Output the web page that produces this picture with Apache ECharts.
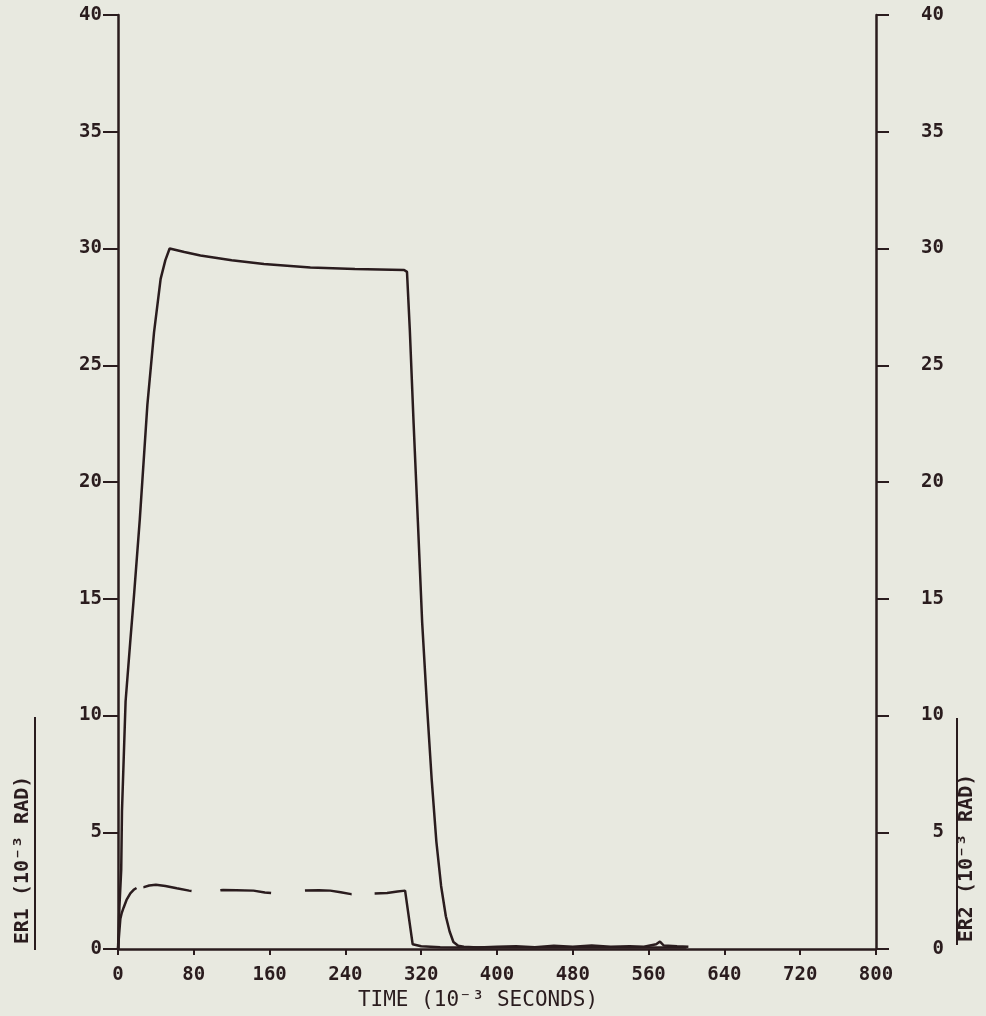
<!DOCTYPE html>
<html>
<head>
<meta charset="utf-8">
<script src="https://cdn.jsdelivr.net/npm/echarts@6/dist/echarts.min.js"></script>
<style>
  html, body { margin: 0; padding: 0; background: #e8e9e0; }
  #chart { width: 986px; height: 1016px; }
</style>
</head>
<body>
<div id="chart"></div>
<script>
// ER1 (solid line), time in 10^-3 s, value in 10^-3 rad
const er1Time = [0, 1.5, 3.4, 4.2, 8, 13, 17, 23, 31, 38, 45, 50, 54.5, 70, 87, 120, 154, 203, 250, 302, 305,
  308, 312, 316.5, 321, 326, 331, 336, 341, 346, 350, 354, 359, 365, 380, 400, 420, 440, 460, 480, 500, 520, 540,
  555, 568, 572, 576, 590, 602];
const er1Val = [0, 1.8, 3.4, 5.9, 10.6, 13.2, 15.2, 18.4, 23.3, 26.4, 28.7, 29.5, 30.0, 29.85, 29.7, 29.5, 29.34, 29.19, 29.12, 29.08, 29.0,
  26.5, 22.5, 18.3, 14.0, 10.5, 7.3, 4.6, 2.7, 1.4, 0.75, 0.3, 0.14, 0.1, 0.06, 0.1, 0.12, 0.08, 0.14, 0.1, 0.15, 0.1, 0.12,
  0.1, 0.2, 0.32, 0.15, 0.12, 0.1];

// ER2 (dashed line)
const er2Time = [0, 1.5, 2.5, 4, 6, 9, 13, 17, 20.3, 27.3, 33, 40, 50, 62, 75, 89, 100, 111, 125, 143, 155, 165, 180,
  197, 212, 224, 235, 246, 258, 270, 284, 295, 303, 305, 311, 320, 340, 360, 400, 450, 500, 550, 600];
const er2Val = [0, 0.8, 1.3, 1.55, 1.78, 2.1, 2.38, 2.55, 2.63, 2.65, 2.72, 2.75, 2.7, 2.6, 2.5, 2.42, 2.47, 2.53, 2.52, 2.5, 2.42, 2.38, 2.42,
  2.5, 2.52, 2.5, 2.43, 2.35, 2.36, 2.38, 2.4, 2.46, 2.5, 2.45, 0.2, 0.12, 0.08, 0.06, 0.08, 0.06, 0.08, 0.06, 0.06];

const xMin = 0, xMax = 800, xStep = 80;
const yMin = 0, yMax = 40, yStep = 5;

const xTitle = 'TIME (10\u207B\u00B3 SECONDS)';
const y1Title = 'ER1 (10\u207B\u00B3 RAD)';
const y2Title = 'ER2 (10\u207B\u00B3 RAD)';

const ink = '#2a1c1e';
const fontFam = "'DejaVu Sans Mono', 'Liberation Mono', monospace";

const pairs = (ts, vs) => ts.map((t, i) => [t, vs[i]]);

const chart = echarts.init(document.getElementById('chart'), null, { renderer: 'canvas' });
chart.setOption({
  backgroundColor: '#e8e9e0',
  animation: false,
  grid: { left: 118, right: 110, top: 15, bottom: 67, containLabel: false },
  xAxis: {
    type: 'value', min: xMin, max: xMax, interval: xStep,
    axisLine: { show: true, lineStyle: { color: ink, width: 2.5 } },
    axisTick: { show: true, inside: false, length: 6, lineStyle: { color: ink, width: 2 } },
    axisLabel: { margin: 17, color: ink, fontSize: 19, fontWeight: 'bold', fontFamily: fontFam },
    splitLine: { show: false },
    name: xTitle, nameLocation: 'middle', nameGap: 40,
    nameTextStyle: { color: ink, fontSize: 21, fontFamily: fontFam, padding: [0, 38, 0, 0] }
  },
  yAxis: [
    {
      type: 'value', min: yMin, max: yMax, interval: yStep, position: 'left',
      axisLine: { show: true, lineStyle: { color: ink, width: 2.5 } },
      axisTick: { show: true, inside: false, length: 15, lineStyle: { color: ink, width: 2 } },
      axisLabel: { margin: 16, color: ink, fontSize: 19, fontWeight: 'bold', fontFamily: fontFam },
      splitLine: { show: false }
    },
    {
      type: 'value', min: yMin, max: yMax, interval: yStep, position: 'right',
      axisLine: { show: true, lineStyle: { color: ink, width: 2.5 } },
      axisTick: { show: true, inside: false, length: 13, lineStyle: { color: ink, width: 2 } },
      axisLabel: { margin: 68, align: 'right', color: ink, fontSize: 19, fontWeight: 'bold', fontFamily: fontFam },
      splitLine: { show: false }
    }
  ],
  series: [
    {
      name: 'ER1', type: 'line', yAxisIndex: 0, data: pairs(er1Time, er1Val),
      showSymbol: false, symbol: 'none', smooth: false,
      lineStyle: { color: ink, width: 2.5, type: 'solid' }
    },
    {
      name: 'ER2', type: 'line', yAxisIndex: 1, data: pairs(er2Time, er2Val),
      showSymbol: false, symbol: 'none', smooth: false,
      lineStyle: { color: ink, width: 2.5, type: [66, 7, 49, 29, 51, 34, 47, 23, 5000, 0] }
    }
  ],
  graphic: [
    { type: 'text', x: 23, y: 860, rotation: Math.PI / 2,
      style: { text: y1Title, fill: ink, font: "bold 20px " + fontFam, textAlign: 'center', textVerticalAlign: 'middle' } },
    { type: 'line', shape: { x1: 35, y1: 717, x2: 35, y2: 950 }, style: { stroke: ink, lineWidth: 2 } },
    { type: 'text', x: 967, y: 858, rotation: Math.PI / 2,
      style: { text: y2Title, fill: ink, font: "bold 20px " + fontFam, textAlign: 'center', textVerticalAlign: 'middle' } },
    { type: 'line', shape: { x1: 957, y1: 718, x2: 957, y2: 945 }, style: { stroke: ink, lineWidth: 2 } }
  ]
});
</script>
</body>
</html>
